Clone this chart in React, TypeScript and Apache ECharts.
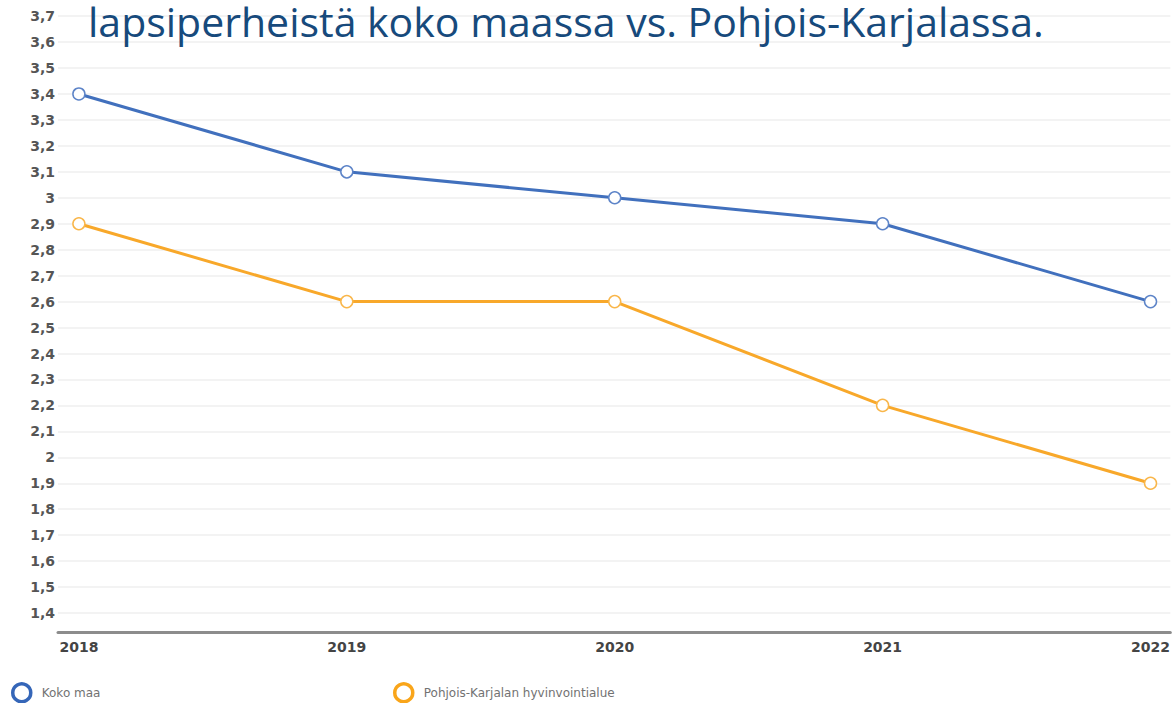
import React, { useEffect, useRef } from "react";
import * as echarts from "echarts";

const years = [2018, 2019, 2020, 2021, 2022];
const kokoMaa = [3.4, 3.1, 3.0, 2.9, 2.6];
const pohjoisKarjala = [2.9, 2.6, 2.6, 2.2, 1.9];
const yTicks = [1.4, 1.5, 1.6, 1.7, 1.8, 1.9, 2.0, 2.1, 2.2, 2.3, 2.4, 2.5, 2.6, 2.7, 2.8, 2.9, 3.0, 3.1, 3.2, 3.3, 3.4, 3.5, 3.6, 3.7];
const seriesNames = ["Koko maa", "Pohjois-Karjalan hyvinvointialue"];
const titleText = "lapsiperheistä koko maassa vs. Pohjois-Karjalassa.";

const BLUE = "#4170bd";
const ORANGE = "#f8a82a";

export default function App() {
  const ref = useRef<HTMLDivElement>(null);
  useEffect(() => {
    if (!ref.current) return;
    const chart = echarts.init(ref.current, undefined, { renderer: "svg" });
    const mk = (vals: number[]) => vals.map((v, i) => [years[i], v]);
    const legendText = { fontFamily: "DejaVu Sans", fontSize: 12, color: "#727272", padding: [0, 0, 0, 6] };
    chart.setOption({
      animation: false,
      backgroundColor: "#ffffff",
      title: {
        text: titleText,
        left: 88,
        top: 0,
        padding: 0,
        textStyle: { fontFamily: "Open Sans", fontSize: 41, fontWeight: "normal", color: "#174a7c" },
      },
      legend: [
        {
          data: [{ name: seriesNames[0], itemStyle: { color: "#fff", borderColor: "#3566b8", borderWidth: 3.5 } }],
          left: 11,
          top: 682,
          icon: "circle",
          itemWidth: 18,
          itemHeight: 18,
          itemGap: 0,
          padding: 0,
          textStyle: legendText,
        },
        {
          data: [{ name: seriesNames[1], itemStyle: { color: "#fff", borderColor: "#f9a51a", borderWidth: 3.5 } }],
          left: 393,
          top: 682,
          icon: "circle",
          itemWidth: 18,
          itemHeight: 18,
          itemGap: 0,
          padding: 0,
          textStyle: legendText,
        },
      ],
      grid: { left: 58, right: 0, top: 0, bottom: 71, containLabel: false },
      xAxis: {
        type: "value",
        min: 2017.922,
        max: 2022.074,
        axisLine: { show: true, lineStyle: { color: "#8c8c8c", width: 3 } },
        axisTick: { show: false },
        splitLine: { show: false },
        axisLabel: {
          customValues: years,
          formatter: (v: number) => String(Math.round(v)),
          fontFamily: "DejaVu Sans",
          fontWeight: "bold",
          fontSize: 14,
          color: "#444",
          margin: 8,
        },
      },
      yAxis: {
        type: "value",
        min: 1.327,
        max: 3.762,
        axisLine: { show: false },
        axisTick: { show: false, customValues: yTicks },
        splitLine: { show: true, lineStyle: { color: "#efefef", width: 1.5 } },
        axisLabel: {
          customValues: yTicks,
          formatter: (v: number) => String(Math.round(v * 10) / 10).replace(".", ","),
          fontFamily: "DejaVu Sans",
          fontWeight: "bold",
          fontSize: 14,
          color: "#555",
          margin: 3,
        },
      },
      series: [
        {
          name: seriesNames[0],
          type: "line",
          data: mk(kokoMaa),
          lineStyle: { color: BLUE, width: 3 },
          itemStyle: { color: "#fff", borderColor: "#5d84c8", borderWidth: 1.5 },
          symbol: "circle",
          symbolSize: 12,
          z: 3,
        },
        {
          name: seriesNames[1],
          type: "line",
          data: mk(pohjoisKarjala),
          lineStyle: { color: ORANGE, width: 3 },
          itemStyle: { color: "#fff", borderColor: "#f9b64a", borderWidth: 1.5 },
          symbol: "circle",
          symbolSize: 12,
          z: 2,
        },
      ],
    });
    return () => chart.dispose();
  }, []);
  return (
    <div
      ref={ref}
      style={{ position: "fixed", left: 0, top: 0, width: 1173, height: 703, background: "#fff" }}
    />
  );
}
